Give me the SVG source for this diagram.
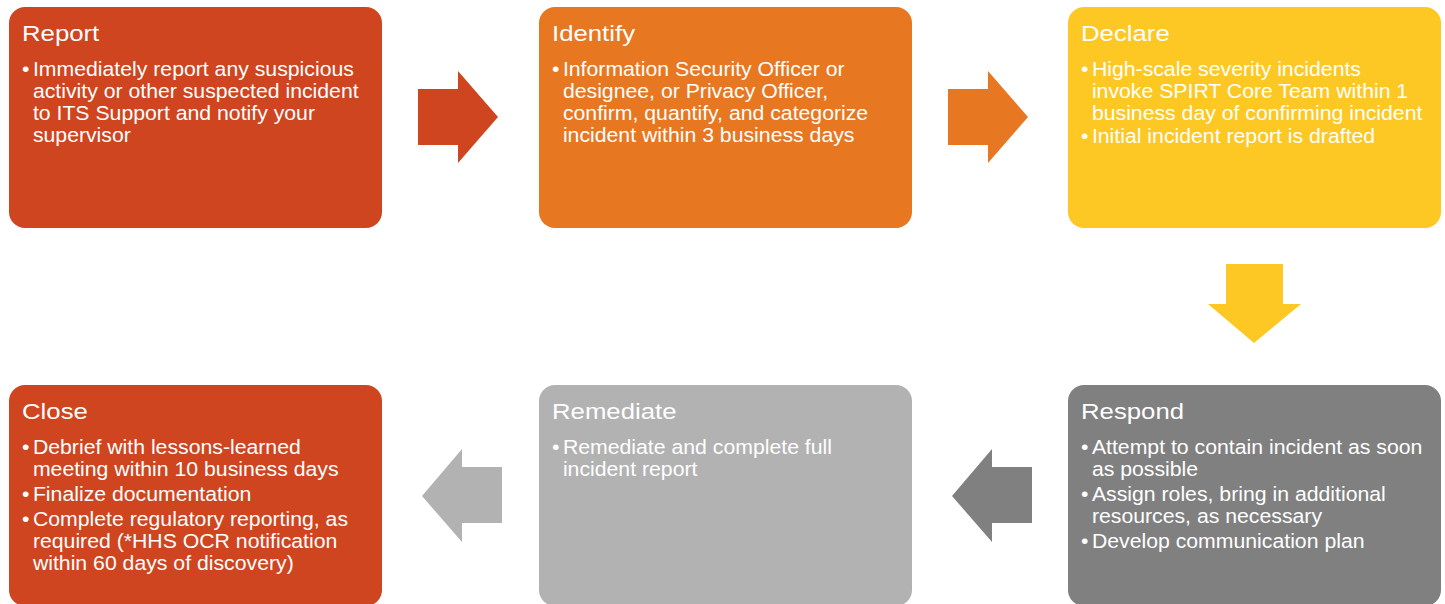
<svg xmlns="http://www.w3.org/2000/svg" width="1445" height="604" viewBox="0 0 1445 604">
<style>
.t{font-family:"Liberation Sans",Arial,sans-serif;fill:#fff;font-size:23px}
.b{font-family:"Liberation Sans",Arial,sans-serif;fill:#fff;font-size:19.5px}
.red{fill:#CF4520}.org{fill:#E87722}.yel{fill:#FDC823}.dg{fill:#808080}.lg{fill:#B2B2B2}
</style>
<rect width="1445" height="604" fill="#fff"/>
<g id="connectors">
<polygon class="red" points="418,89 458,89 458,71 498,117 458,163 458,145 418,145"/>
<polygon class="org" points="948,89 988,89 988,71 1028,117 988,163 988,145 948,145"/>
<polygon class="yel" points="1226,264 1283,264 1283,304 1301,304 1254,343 1208,304 1226,304"/>
<polygon class="dg" points="1032,467 992,467 992,449 952,496 992,542 992,523 1032,523"/>
<polygon class="lg" points="502,467 462,467 462,449 422,496 462,542 462,523 502,523"/>
</g>
<g id="report">
<rect class="red" x="9" y="7" width="373" height="221" rx="16"/>
<text class="t" transform="translate(22,0) scale(1.12,1)" x="0" y="41">Report</text>
<text class="b" transform="translate(22,0) scale(1.09,1)"><tspan x="0" y="76">•</tspan><tspan x="10" y="76">Immediately report any suspicious</tspan><tspan x="10" y="98">activity or other suspected incident</tspan><tspan x="10" y="120">to ITS Support and notify your</tspan><tspan x="10" y="142">supervisor</tspan></text>
</g>
<g id="identify">
<rect class="org" x="539" y="7" width="373" height="221" rx="16"/>
<text class="t" transform="translate(552,0) scale(1.12,1)" x="0" y="41">Identify</text>
<text class="b" transform="translate(552,0) scale(1.09,1)"><tspan x="0" y="76">•</tspan><tspan x="10" y="76">Information Security Officer or</tspan><tspan x="10" y="98">designee, or Privacy Officer,</tspan><tspan x="10" y="120">confirm, quantify, and categorize</tspan><tspan x="10" y="142">incident within 3 business days</tspan></text>
</g>
<g id="declare">
<rect class="yel" x="1068" y="7" width="373" height="221" rx="16"/>
<text class="t" transform="translate(1081,0) scale(1.12,1)" x="0" y="41">Declare</text>
<text class="b" transform="translate(1081,0) scale(1.09,1)"><tspan x="0" y="76">•</tspan><tspan x="10" y="76">High-scale severity incidents</tspan><tspan x="10" y="98">invoke SPIRT Core Team within 1</tspan><tspan x="10" y="120">business day of confirming incident</tspan><tspan x="0" y="143">•</tspan><tspan x="10" y="143">Initial incident report is drafted</tspan></text>
</g>
<g id="respond">
<rect class="dg" x="1068" y="385" width="373" height="221" rx="16"/>
<text class="t" transform="translate(1081,0) scale(1.12,1)" x="0" y="419">Respond</text>
<text class="b" transform="translate(1081,0) scale(1.09,1)"><tspan x="0" y="454">•</tspan><tspan x="10" y="454">Attempt to contain incident as soon</tspan><tspan x="10" y="476">as possible</tspan><tspan x="0" y="501">•</tspan><tspan x="10" y="501">Assign roles, bring in additional</tspan><tspan x="10" y="523">resources, as necessary</tspan><tspan x="0" y="548">•</tspan><tspan x="10" y="548">Develop communication plan</tspan></text>
</g>
<g id="remediate">
<rect class="lg" x="539" y="385" width="373" height="221" rx="16"/>
<text class="t" transform="translate(552,0) scale(1.12,1)" x="0" y="419">Remediate</text>
<text class="b" transform="translate(552,0) scale(1.09,1)"><tspan x="0" y="454">•</tspan><tspan x="10" y="454">Remediate and complete full</tspan><tspan x="10" y="476">incident report</tspan></text>
</g>
<g id="close">
<rect class="red" x="9" y="385" width="373" height="221" rx="16"/>
<text class="t" transform="translate(22,0) scale(1.12,1)" x="0" y="419">Close</text>
<text class="b" transform="translate(22,0) scale(1.09,1)"><tspan x="0" y="454">•</tspan><tspan x="10" y="454">Debrief with lessons-learned</tspan><tspan x="10" y="476">meeting within 10 business days</tspan><tspan x="0" y="501">•</tspan><tspan x="10" y="501">Finalize documentation</tspan><tspan x="0" y="526">•</tspan><tspan x="10" y="526">Complete regulatory reporting, as</tspan><tspan x="10" y="548">required (*HHS OCR notification</tspan><tspan x="10" y="570">within 60 days of discovery)</tspan></text>
</g>
</svg>
